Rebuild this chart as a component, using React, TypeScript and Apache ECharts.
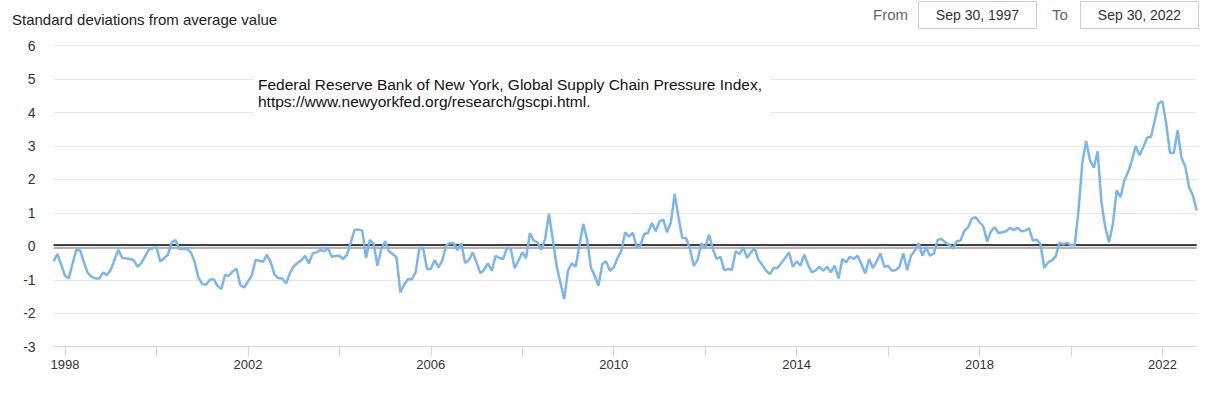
import React, { useEffect, useRef } from "react";
import * as echarts from "echarts";

// Global Supply Chain Pressure Index, monthly, Sep 1997 .. Sep 2022 (std. deviations)
const startDecimalYear = 1997.75; // Sep 30, 1997
const values: number[] = [
  // 1997 Sep-Dec
  -0.45, -0.23, -0.55, -0.88,
  // 1998
  -0.95, -0.5, -0.1, -0.13, -0.5, -0.8, -0.91, -0.96, -0.96, -0.78, -0.86, -0.7,
  // 1999
  -0.4, -0.1, -0.35, -0.36, -0.38, -0.41, -0.61, -0.5, -0.3, -0.1, -0.06, -0.03,
  // 2000
  -0.46, -0.35, -0.25, 0.12, 0.19, -0.08, -0.08, -0.08, -0.18, -0.45, -0.93, -1.13,
  // 2001
  -1.15, -1.0, -0.98, -1.18, -1.28, -0.86, -0.88, -0.75, -0.67, -1.16, -1.23, -1.05,
  // 2002
  -0.88, -0.41, -0.43, -0.46, -0.25, -0.48, -0.85, -0.95, -0.96, -1.11, -0.8, -0.6,
  // 2003
  -0.5, -0.42, -0.28, -0.51, -0.21, -0.18, -0.11, -0.15, -0.05, -0.31, -0.29, -0.28,
  // 2004
  -0.38, -0.25, 0.12, 0.49, 0.5, 0.47, -0.35, 0.19, 0.07, -0.58, -0.08, 0.15,
  // 2005
  -0.15, -0.23, -0.33, -1.38, -1.15, -0.98, -0.99, -0.78, -0.05, -0.06, -0.68, -0.68,
  // 2006
  -0.41, -0.63, -0.43, 0.02, 0.1, 0.09, -0.11, 0.09, -0.5, -0.41, -0.18, -0.48,
  // 2007
  -0.81, -0.7, -0.51, -0.73, -0.28, -0.35, -0.38, -0.04, -0.08, -0.65, -0.43, -0.18,
  // 2008
  -0.35, 0.39, 0.17, 0.12, -0.1, 0.22, 0.97, 0.22, -0.58, -1.08, -1.58, -0.73,
  // 2009
  -0.51, -0.61, 0.02, 0.67, 0.22, -0.63, -0.88, -1.18, -0.53, -0.45, -0.73, -0.63,
  // 2010
  -0.35, -0.13, 0.42, 0.29, 0.41, -0.01, 0.02, 0.37, 0.4, 0.7, 0.45, 0.74,
  // 2011
  0.8, 0.42, 0.72, 1.57, 0.87, 0.25, 0.25, -0.08, -0.58, -0.41, 0.09, -0.05,
  // 2012
  0.35, -0.08, -0.38, -0.31, -0.71, -0.68, -0.7, -0.15, -0.23, -0.03, -0.35, -0.18,
  // 2013
  -0.06, -0.41, -0.56, -0.73, -0.83, -0.65, -0.65, -0.5, -0.35, -0.18, -0.61, -0.45,
  // 2014
  -0.58, -0.25, -0.55, -0.78, -0.72, -0.61, -0.73, -0.61, -0.78, -0.58, -0.96, -0.38,
  // 2015
  -0.48, -0.31, -0.38, -0.28, -0.53, -0.81, -0.38, -0.65, -0.45, -0.21, -0.61, -0.58,
  // 2016
  -0.73, -0.71, -0.61, -0.21, -0.71, -0.28, -0.13, 0.1, -0.28, -0.03, -0.28, -0.21,
  // 2017
  0.19, 0.22, 0.12, 0.05, -0.07, 0.15, 0.17, 0.46, 0.57, 0.83, 0.87, 0.72,
  // 2018
  0.6, 0.14, 0.45, 0.57, 0.4, 0.42, 0.45, 0.55, 0.49, 0.55, 0.45, 0.47,
  // 2019
  0.54, 0.17, 0.2, 0.07, -0.64, -0.48, -0.42, -0.3, 0.11, 0.06, 0.11, 0.03,
  // 2020
  0.04, 1.1, 2.52, 3.14, 2.57, 2.35, 2.84, 1.32, 0.57, 0.12, 0.67, 1.67,
  // 2021
  1.47, 1.97, 2.22, 2.57, 3.0, 2.72, 2.97, 3.25, 3.27, 3.77, 4.27, 4.34,
  // 2022 Jan-Sep
  3.67, 2.79, 2.8, 3.47, 2.65, 2.39, 1.77, 1.52, 1.07,
];

const tickYears = [1998, 2000, 2002, 2004, 2006, 2008, 2010, 2012, 2014, 2016, 2018, 2020, 2022];
const labelYears = [1998, 2002, 2006, 2010, 2014, 2018, 2022];
const yMin = -3;
const yMax = 6;

const titleText = "Standard deviations from average value";
const noteLines = [
  "Federal Reserve Bank of New York, Global Supply Chain Pressure Index,",
  "https://www.newyorkfed.org/research/gscpi.html.",
];
const fromDate = "Sep 30, 1997";
const toDate = "Sep 30, 2022";

const FONT = '"Liberation Sans", Arial, sans-serif';

export default function App() {
  const ref = useRef<HTMLDivElement>(null);

  useEffect(() => {
    if (!ref.current) return;
    const chart = echarts.init(ref.current, null, { renderer: "svg" });
    const data = values.map((v, i) => [startDecimalYear + i / 12, v]);

    chart.setOption({
      animation: false,
      backgroundColor: "#fff",
      grid: { left: 53.6, right: 12.3, top: 45.6, bottom: 51.3 },
      xAxis: {
        type: "value",
        min: startDecimalYear,
        max: startDecimalYear + (values.length - 1) / 12,
        axisLine: { show: true, onZero: false, lineStyle: { color: "#ccd6eb", width: 1 } },
        axisTick: {
          show: true,
          customValues: tickYears,
          length: 10,
          lineStyle: { color: "#ccd6eb", width: 1 },
        },
        axisLabel: {
          customValues: labelYears,
          formatter: (v: number) => String(Math.round(v)),
          color: "#333",
          fontSize: 13,
          fontFamily: FONT,
          margin: 11,
        },
        splitLine: { show: false },
      },
      yAxis: {
        type: "value",
        min: yMin,
        max: yMax,
        interval: 1,
        axisLine: { show: false },
        axisTick: { show: false },
        splitLine: { lineStyle: { color: "#e6e6e6", width: 1 } },
        axisLabel: { color: "#333", fontSize: 14, fontFamily: FONT, margin: 18 },
      },
      series: [
        {
          type: "line",
          data,
          showSymbol: false,
          symbol: "none",
          lineStyle: { color: "#7cb5ec", width: 2.5 },
          itemStyle: { color: "#7cb5ec" },
          z: 3,
          markLine: {
            silent: true,
            symbol: "none",
            label: { show: false },
            z: 2,
            data: [
              { yAxis: -0.025, lineStyle: { color: "#b3b3b3", width: 2, type: "solid" } },
              { yAxis: 0.04, lineStyle: { color: "#000", width: 1.6, type: "solid" } },
            ],
          },
        },
      ],
      graphic: [
        {
          type: "text",
          x: 12,
          y: 19,
          style: { text: titleText, font: `15px ${FONT}`, fill: "#222", verticalAlign: "middle" },
        },
        {
          type: "rect",
          z: 100,
          shape: { x: 254, y: 70, width: 516, height: 46 },
          style: { fill: "#fff" },
        },
        {
          type: "text",
          z: 101,
          x: 258,
          y: 84,
          style: { text: noteLines[0], font: `15.5px ${FONT}`, fill: "#111", verticalAlign: "middle" },
        },
        {
          type: "text",
          z: 101,
          x: 258,
          y: 101,
          style: { text: noteLines[1], font: `15.5px ${FONT}`, fill: "#111", verticalAlign: "middle" },
        },
        {
          type: "text",
          x: 873,
          y: 14,
          style: { text: "From", font: `15px ${FONT}`, fill: "#666", verticalAlign: "middle" },
        },
        {
          type: "rect",
          shape: { x: 918.5, y: 1.5, width: 118, height: 27 },
          style: { fill: "#fff", stroke: "#ccc", lineWidth: 1 },
        },
        {
          type: "text",
          x: 977.5,
          y: 15,
          style: { text: fromDate, font: `14px ${FONT}`, fill: "#333", align: "center", verticalAlign: "middle" },
        },
        {
          type: "text",
          x: 1052,
          y: 14,
          style: { text: "To", font: `15px ${FONT}`, fill: "#666", verticalAlign: "middle" },
        },
        {
          type: "rect",
          shape: { x: 1080.5, y: 1.5, width: 118, height: 27 },
          style: { fill: "#fff", stroke: "#ccc", lineWidth: 1 },
        },
        {
          type: "text",
          x: 1139.5,
          y: 15,
          style: { text: toDate, font: `14px ${FONT}`, fill: "#333", align: "center", verticalAlign: "middle" },
        },
      ],
    });

    return () => chart.dispose();
  }, []);

  return (
    <div
      ref={ref}
      style={{ position: "absolute", left: 0, top: 0, width: 1209, height: 398 }}
    />
  );
}
